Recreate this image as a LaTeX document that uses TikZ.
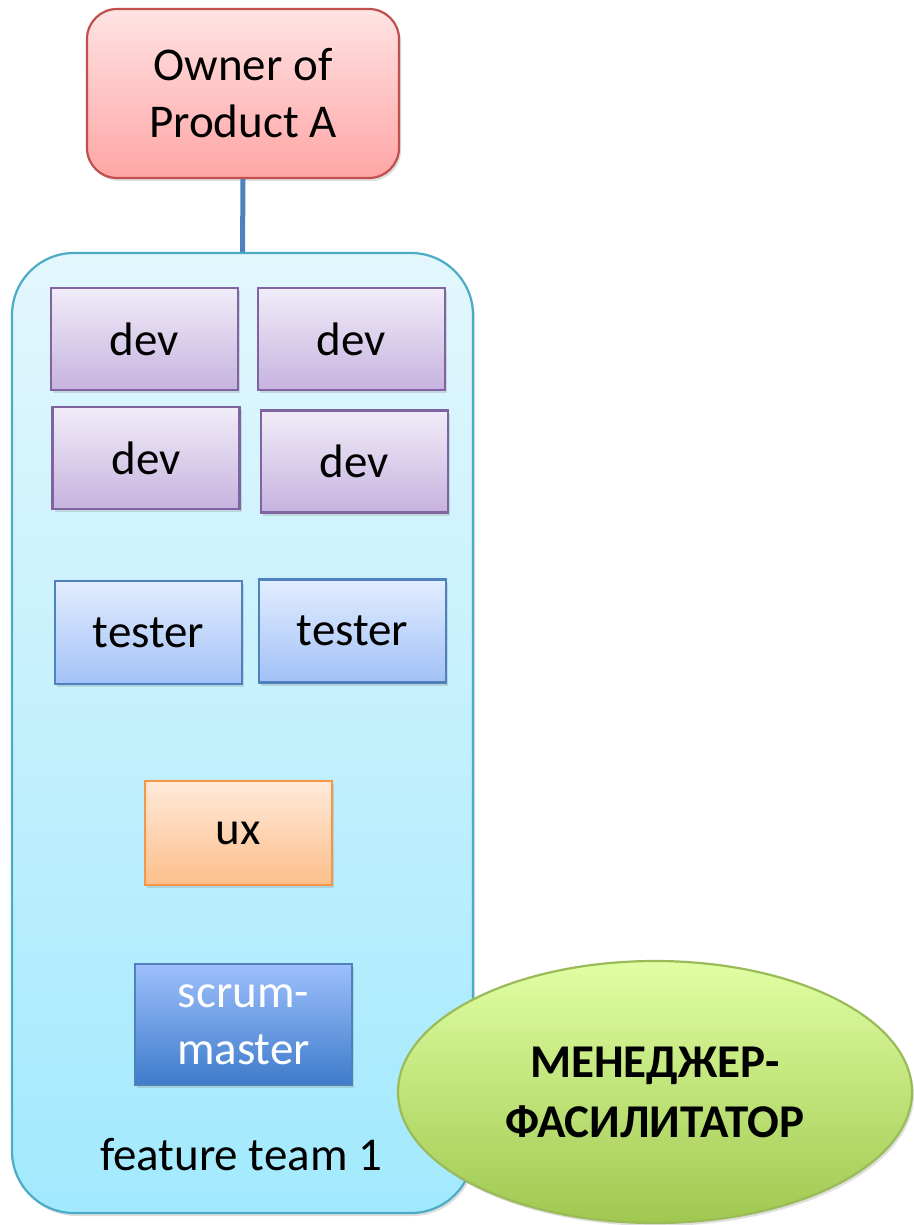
\documentclass[tikz,border=0pt]{standalone}
\usepackage{fontspec}
\setmainfont{Carlito}
\usetikzlibrary{shapes.geometric,shadows}
\definecolor{ownerT}{HTML}{FFE3E3}
\definecolor{ownerB}{HTML}{FFA5A5}
\definecolor{ownerD}{HTML}{C0504D}
\definecolor{teamT}{HTML}{E3F7FD}
\definecolor{teamB}{HTML}{A2E9FD}
\definecolor{teamD}{HTML}{4BACC6}
\definecolor{devT}{HTML}{F1ECF8}
\definecolor{devB}{HTML}{C6B3DF}
\definecolor{devD}{HTML}{8064A2}
\definecolor{tesT}{HTML}{E2EDFF}
\definecolor{tesB}{HTML}{A2C1F7}
\definecolor{tesD}{HTML}{4F81BD}
\definecolor{uxT}{HTML}{FFE9DA}
\definecolor{uxB}{HTML}{FCBF8A}
\definecolor{uxD}{HTML}{F79646}
\definecolor{smT}{HTML}{9DC0FC}
\definecolor{smB}{HTML}{3E7BCB}
\definecolor{elT}{HTML}{E0FFA3}
\definecolor{elB}{HTML}{A0C850}
\definecolor{elD}{HTML}{9BBB59}
\definecolor{linkC}{HTML}{4F81BD}
\begin{document}
\begin{tikzpicture}[x=1pt,y=-1pt,
  shad/.style={drop shadow={opacity=0.25,shadow xshift=2pt,shadow yshift=-3pt}},
  box/.style={rectangle,line width=2.2pt,inner sep=0pt,shad,font=\fontsize{47}{57}\selectfont,align=center},
  devbox/.style={box,draw=devD,top color=devT,bottom color=devB,minimum width=187pt,minimum height=102pt},
  tesbox/.style={box,draw=tesD,top color=tesT,bottom color=tesB,minimum width=187pt,minimum height=103pt},
  uxbox/.style={box,draw=uxD,top color=uxT,bottom color=uxB,minimum width=187pt,minimum height=104pt},
  smbox/.style={box,draw=tesD,top color=smT,bottom color=smB,minimum width=217pt,minimum height=121pt,text=white},
  ownerbox/.style={box,draw=ownerD,top color=ownerT,bottom color=ownerB,minimum width=312pt,minimum height=169pt,rounded corners=30pt},
  teambox/.style={rectangle,draw=teamD,line width=2.2pt,top color=teamT,bottom color=teamB,minimum width=461pt,minimum height=960pt,rounded corners=62pt,shad,inner sep=0pt},
  facil/.style={ellipse,draw=elD,line width=2.2pt,top color=elT,bottom color=elB,minimum width=514pt,minimum height=262pt,inner sep=0pt,shad,font=\bfseries\fontsize{47}{60}\selectfont,align=center},
  lbl/.style={font=\fontsize{47}{57}\selectfont,inner sep=0pt}
]
\useasboundingbox (0,0) rectangle (913,1225);
\node[teambox] (team) at (242.5,733) {};
\node[ownerbox] (owner) at (243,93.5) {Owner of\\Product A};
\draw[linkC,line width=5pt] (owner.south) -- (team.north);
\node[devbox] (dev1) at (144.5,339) {dev};
\node[devbox] (dev2) at (351.5,339) {dev};
\node[devbox] (dev3) at (146,458) {dev};
\node[devbox] (dev4) at (354.5,461.5) {dev};
\node[tesbox] (tes1) at (148.5,632.5) {tester};
\node[tesbox] (tes2) at (352.5,631) {tester};
\node[uxbox] (ux) at (238.5,833) {ux};
\node[smbox] (sm) at (243.5,1024.5) {scrum-\\master};
\node[lbl] (tlabel) at (241,1155) {feature team 1};
\node[facil] (fac) at (655,1092) {МЕНЕДЖЕР-\\ФАСИЛИТАТОР};
\end{tikzpicture}
\end{document}
